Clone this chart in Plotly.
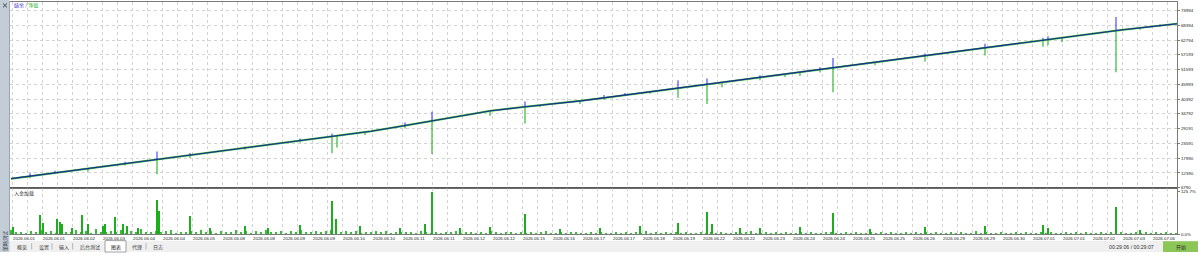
import numpy as np
import plotly.graph_objects as go

W, H = 1198, 255

# ---------------- data ----------------
date_labels = ["2026.06.01", "2026.06.01", "2026.06.02", "2026.06.03", "2026.06.04", "2026.06.04",
               "2026.06.05", "2026.06.08", "2026.06.08", "2026.06.09", "2026.06.09", "2026.06.10",
               "2026.06.10", "2026.06.11", "2026.06.11", "2026.06.12", "2026.06.12", "2026.06.15",
               "2026.06.16", "2026.06.17", "2026.06.17", "2026.06.18", "2026.06.19", "2026.06.22",
               "2026.06.22", "2026.06.23", "2026.06.24", "2026.06.24", "2026.06.25", "2026.06.25",
               "2026.06.26", "2026.06.29", "2026.06.29", "2026.06.30", "2026.07.01", "2026.07.01",
               "2026.07.02", "2026.07.03", "2026.07.06"]

ytick_vals = [6790, 12390, 17990, 23591, 29191, 34792, 40392, 45993, 51593, 57193, 62794, 68394, 73994]
ytick_text = ["6790", "12390", "17990", "23591", "29191", "34792", "40392", "45993", "51593",
              "57193", "62794", "68394", "73994"]

load_tick_vals = [0, 125.7]
load_tick_text = ["0.0%", "125.7%"]

# balance curve (deal index -> balance)
balance_deal = [0, 30, 60, 90, 120, 150, 180, 210, 240, 270, 300, 330, 360, 390, 420, 450, 480, 510,
                540, 570, 600, 630, 660, 690, 720, 750, 780, 810, 840, 870, 900, 930, 960, 990, 1020,
                1050, 1080, 1110, 1140, 1166]
balance = [10250, 11700, 13250, 14700, 16250, 17750, 19200, 20750, 22250, 23700, 25250, 26750, 28250,
           30100, 32150, 34100, 36000, 37300, 38450, 39750, 41250, 42750, 44250, 45750, 47250, 48750,
           50250, 51750, 53250, 54750, 56250, 57800, 59300, 60800, 62300, 63800, 65300, 66650, 67900,
           69000]

# equity excursions (deal index, max equity, min equity)
spike_deal = [19, 44, 77, 114, 146, 179, 234, 289, 321, 326, 354, 394, 421, 479, 514, 529, 569, 593,
              614, 639, 667, 696, 711, 749, 774, 789, 809, 822, 864, 914, 974, 1032, 1037, 1051, 1105,
              1129, 1149]
spike_high = [12300, 13200, 14092, 16700, 20550, 19950, 22300, 25450, 27400, 26542, 27942, 31500,
              35600, 35960, 39550, 38040, 39693, 42000, 42700, 43193, 47600, 48250, 46793, 49450,
              49943, 50693, 52450, 56050, 54443, 57700, 61450, 63650, 64300, 63863, 71520, 67450, 68700]
spike_low = [10450, 12050, 12950, 15200, 11950, 18050, 21200, 23950, 19900, 22050, 26800, 29300,
             19600, 34100, 31200, 37300, 38550, 40150, 41943, 42450, 40900, 38550, 44900, 47550,
             48800, 49200, 50550, 43050, 53300, 54700, 56950, 60300, 60900, 62000, 50560, 66700, 67900]

# deposit load (%), baseline every 5 deals
load_base = [
    12, 6, 8, 5, 10, 7, 14, 6, 9, 5, 11, 8, 6, 13, 7, 9, 5, 16, 8, 6,
    10, 7, 12, 5, 9, 6, 15, 8, 7, 11, 6, 9, 13, 5, 8, 7, 10, 6, 12, 7,
    9, 5, 11, 7, 8, 14, 6, 9, 5, 10, 7, 12, 6, 8, 9, 5, 11, 7, 13, 6,
    8, 10, 6, 9, 12, 5, 7, 9, 6, 11, 5, 8, 7, 10, 6, 9, 5, 8, 7, 6,
    7, 5, 9, 6, 4, 8, 5, 7, 6, 10, 5, 6, 8, 4, 7, 5, 9, 6, 5, 7,
    6, 4, 8, 5, 7, 4, 6, 9, 5, 4, 7, 5, 6, 8, 4, 5, 7, 4, 6, 5,
    5, 8, 4, 6, 5, 7, 4, 9, 5, 6, 4, 7, 5, 8, 4, 6, 5, 4, 7, 5,
    6, 4, 8, 5, 4, 7, 5, 6, 9, 4, 5, 7, 4, 6, 5, 8, 4, 5, 6, 4,
    7, 5, 4, 6, 8, 4, 5, 7, 4, 6, 5, 4, 8, 5, 6, 4, 7, 5, 4, 6,
    5, 7, 4, 6, 4, 8, 5, 4, 6, 5, 7, 4, 5, 9, 4, 6, 5, 4, 7, 5,
    4, 6, 5, 8, 4, 5, 7, 4, 6, 5, 4, 8, 5, 6, 4, 7, 5, 4, 6, 5,
    6, 4, 7, 5, 4, 6, 5, 8, 4, 6, 5, 7, 4, 5,
]
load_peak_deal = [2, 29, 32, 46, 49, 51, 61, 71, 77, 92, 94, 104, 112, 116, 127, 146, 148, 179, 199,
                  234, 257, 289, 321, 325, 349, 389, 414, 421, 449, 479, 514, 549, 589, 629, 667, 696,
                  701, 729, 749, 789, 822, 859, 914, 974, 1032, 1037, 1105, 1129]
load_peak_pct = [23, 59, 35, 45, 38, 30, 20, 58, 30, 25, 30, 53, 30, 25, 18, 103, 70, 55, 20,
                 25, 20, 28, 100, 45, 25, 20, 30, 125.7, 18, 22, 60, 15, 20, 25, 35, 65,
                 30, 20, 18, 22, 62, 15, 22, 25, 28, 20, 82, 12]

# ---------------- helpers ----------------
def px(x):
    return x / W


def py(y):
    return 1 - y / H


# spike segments
bal_at = np.interp(spike_deal, balance_deal, balance)
up_x, up_y, dn_x, dn_y = [], [], [], []
for d, b, hi, lo in zip(spike_deal, bal_at, spike_high, spike_low):
    up_x += [d, d, None]
    up_y += [b, hi, None]
    dn_x += [d, d, None]
    dn_y += [b, lo, None]

fig = go.Figure()
fig.add_trace(go.Scatter(x=balance_deal, y=balance, mode="lines", line=dict(color="#35b835", width=2.0),
                         xaxis="x", yaxis="y", hoverinfo="skip"))
fig.add_trace(go.Scatter(x=dn_x, y=dn_y, mode="lines", line=dict(color="#22b022", width=1.1),
                         xaxis="x", yaxis="y", hoverinfo="skip"))
fig.add_trace(go.Scatter(x=up_x, y=up_y, mode="lines", line=dict(color="#3b3bff", width=1.1),
                         xaxis="x", yaxis="y", hoverinfo="skip"))
fig.add_trace(go.Scatter(x=balance_deal, y=balance, mode="lines", line=dict(color="#1c2a96", width=1.1),
                         xaxis="x", yaxis="y", hoverinfo="skip"))

fig.add_trace(go.Bar(x0=0, dx=5, y=load_base, width=2.2, marker=dict(color="#3cbc3c", line_width=0),
                     xaxis="x2", yaxis="y2", hoverinfo="skip"))
fig.add_trace(go.Bar(x=load_peak_deal, y=load_peak_pct, width=1.6, marker=dict(color="#1cae1c", line_width=0),
                     xaxis="x2", yaxis="y2", hoverinfo="skip"))

grid = "#d2d2d2"
frame = "#7a7a7a"
tickvals = list(range(1, 1166, 30))[:len(date_labels)]
xdom = [px(10), px(1177)]
xrange = [-1, 1166]
minor = dict(tickmode="linear", tick0=1, dtick=15, showgrid=True, gridcolor=grid, griddash="dot", gridwidth=1)

fig.update_layout(
    width=W, height=H, autosize=False,
    margin=dict(l=0, r=0, t=0, b=0),
    paper_bgcolor="white", plot_bgcolor="white",
    showlegend=False, barmode="overlay", bargap=0,
    font=dict(family="Liberation Sans, Noto Sans CJK SC", size=4.4, color="#202020"),
    xaxis=dict(domain=xdom, range=xrange, anchor="y", tickvals=tickvals, showticklabels=False,
               showgrid=True, gridcolor=grid, griddash="dot", gridwidth=1, minor=minor,
               showline=True, linecolor=frame, linewidth=1, mirror=True, zeroline=False, ticks=""),
    yaxis=dict(domain=[py(190), py(2)], range=[6790, 77250], side="right", anchor="x",
               tickvals=ytick_vals, ticktext=ytick_text, showgrid=True, gridcolor=grid, griddash="dot",
               gridwidth=1, ticks="outside", ticklen=2, tickcolor=frame, showline=True, linecolor=frame,
               mirror=True, zeroline=False, tickfont=dict(size=4.4)),
    xaxis2=dict(domain=xdom, range=xrange, anchor="y2", matches="x", tickvals=tickvals, ticktext=date_labels,
                ticklabelposition="outside right", tickangle=0, showgrid=True, gridcolor=grid, griddash="dot",
                gridwidth=1, minor=minor, showline=True, linecolor=frame, linewidth=1, mirror=True,
                zeroline=False, ticks="outside", ticklen=2, tickcolor="rgba(0,0,0,0)",
                tickfont=dict(size=4.4)),
    yaxis2=dict(domain=[py(237), py(190)], range=[0, 137.4], side="right", anchor="x2",
                tickvals=load_tick_vals, ticktext=load_tick_text, showgrid=False, ticks="outside", ticklen=2,
                tickcolor=frame, showline=True, linecolor=frame, mirror=True, zeroline=False,
                tickfont=dict(size=4.4)),
)

shapes = []
# bottom tab bar
shapes.append(dict(type="rect", xref="paper", yref="paper", x0=0, x1=1, y0=0, y1=py(243.5),
                   fillcolor="#f0f0f0", line=dict(width=0), layer="below"))
# active tab
shapes.append(dict(type="rect", xref="paper", yref="paper", x0=px(105), x1=px(126), y0=0, y1=py(243.5),
                   fillcolor="white", line=dict(color="#a0a0a0", width=1)))
for sx in [31.7, 52, 72.7, 146]:
    shapes.append(dict(type="line", xref="paper", yref="paper", x0=px(sx), x1=px(sx), y0=py(252.5), y1=py(246),
                       line=dict(color="#b4b4b4", width=1)))
# start button
shapes.append(dict(type="rect", xref="paper", yref="paper", x0=px(1163), x1=1, y0=0, y1=py(244),
                   fillcolor="#8cc657", line=dict(width=0)))
# left sidebar
shapes.append(dict(type="rect", xref="paper", yref="paper", x0=0, x1=px(9.5), y0=0, y1=1,
                   fillcolor="#c3cdd8", line=dict(width=0)))
shapes.append(dict(type="line", xref="paper", yref="paper", x0=px(3), x1=px(7), y0=py(3.5), y1=py(7.5),
                   line=dict(color="#404850", width=1)))
shapes.append(dict(type="line", xref="paper", yref="paper", x0=px(3), x1=px(7), y0=py(7.5), y1=py(3.5),
                   line=dict(color="#404850", width=1)))
# divider between panels
shapes.append(dict(type="line", xref="paper", yref="paper", x0=px(10), x1=px(1177), y0=py(190), y1=py(190),
                   line=dict(color="#5a5a5a", width=1.4)))
fig.update_layout(shapes=shapes)

cjk = "Noto Sans CJK SC"
ann = [
    dict(text='<span style="color:#2a2ad0">结余</span><span style="color:#606060"> / </span>'
              '<span style="color:#20b020">净值</span>',
         x=px(12), y=py(5.5), font=dict(family=cjk, size=5)),
    dict(text="入金加载", x=px(12), y=py(195.5), font=dict(family=cjk, size=5, color="#303030")),
    dict(text="概览", x=px(15), y=py(249.5), font=dict(family=cjk, size=5, color="#404040")),
    dict(text="设置", x=px(36.5), y=py(249.5), font=dict(family=cjk, size=5, color="#404040")),
    dict(text="输入", x=px(57), y=py(249.5), font=dict(family=cjk, size=5, color="#404040")),
    dict(text="后台测试", x=px(77.5), y=py(249.5), font=dict(family=cjk, size=5, color="#404040")),
    dict(text="图表", x=px(108.5), y=py(249.5), font=dict(family=cjk, size=5, color="#202020")),
    dict(text="代理", x=px(130), y=py(249.5), font=dict(family=cjk, size=5, color="#404040")),
    dict(text="日志", x=px(150.5), y=py(249.5), font=dict(family=cjk, size=5, color="#404040")),
    dict(text="00:29:06 / 00:29:07", x=px(1107), y=py(249.5),
         font=dict(family="Liberation Sans", size=5.2, color="#303030")),
    dict(text="开始", x=px(1180.5), y=py(249.5), xanchor="center",
         font=dict(family=cjk, size=5, color="#303030")),
    dict(text="策略测试", x=px(4.8), y=py(244), xanchor="center", textangle=-90,
         font=dict(family=cjk, size=5, color="#404850")),
]
for a in ann:
    a.setdefault("xanchor", "left")
    a.update(xref="paper", yref="paper", yanchor="middle", showarrow=False)
fig.update_layout(annotations=ann)

fig.write_html("out.html", config={"displayModeBar": False})
